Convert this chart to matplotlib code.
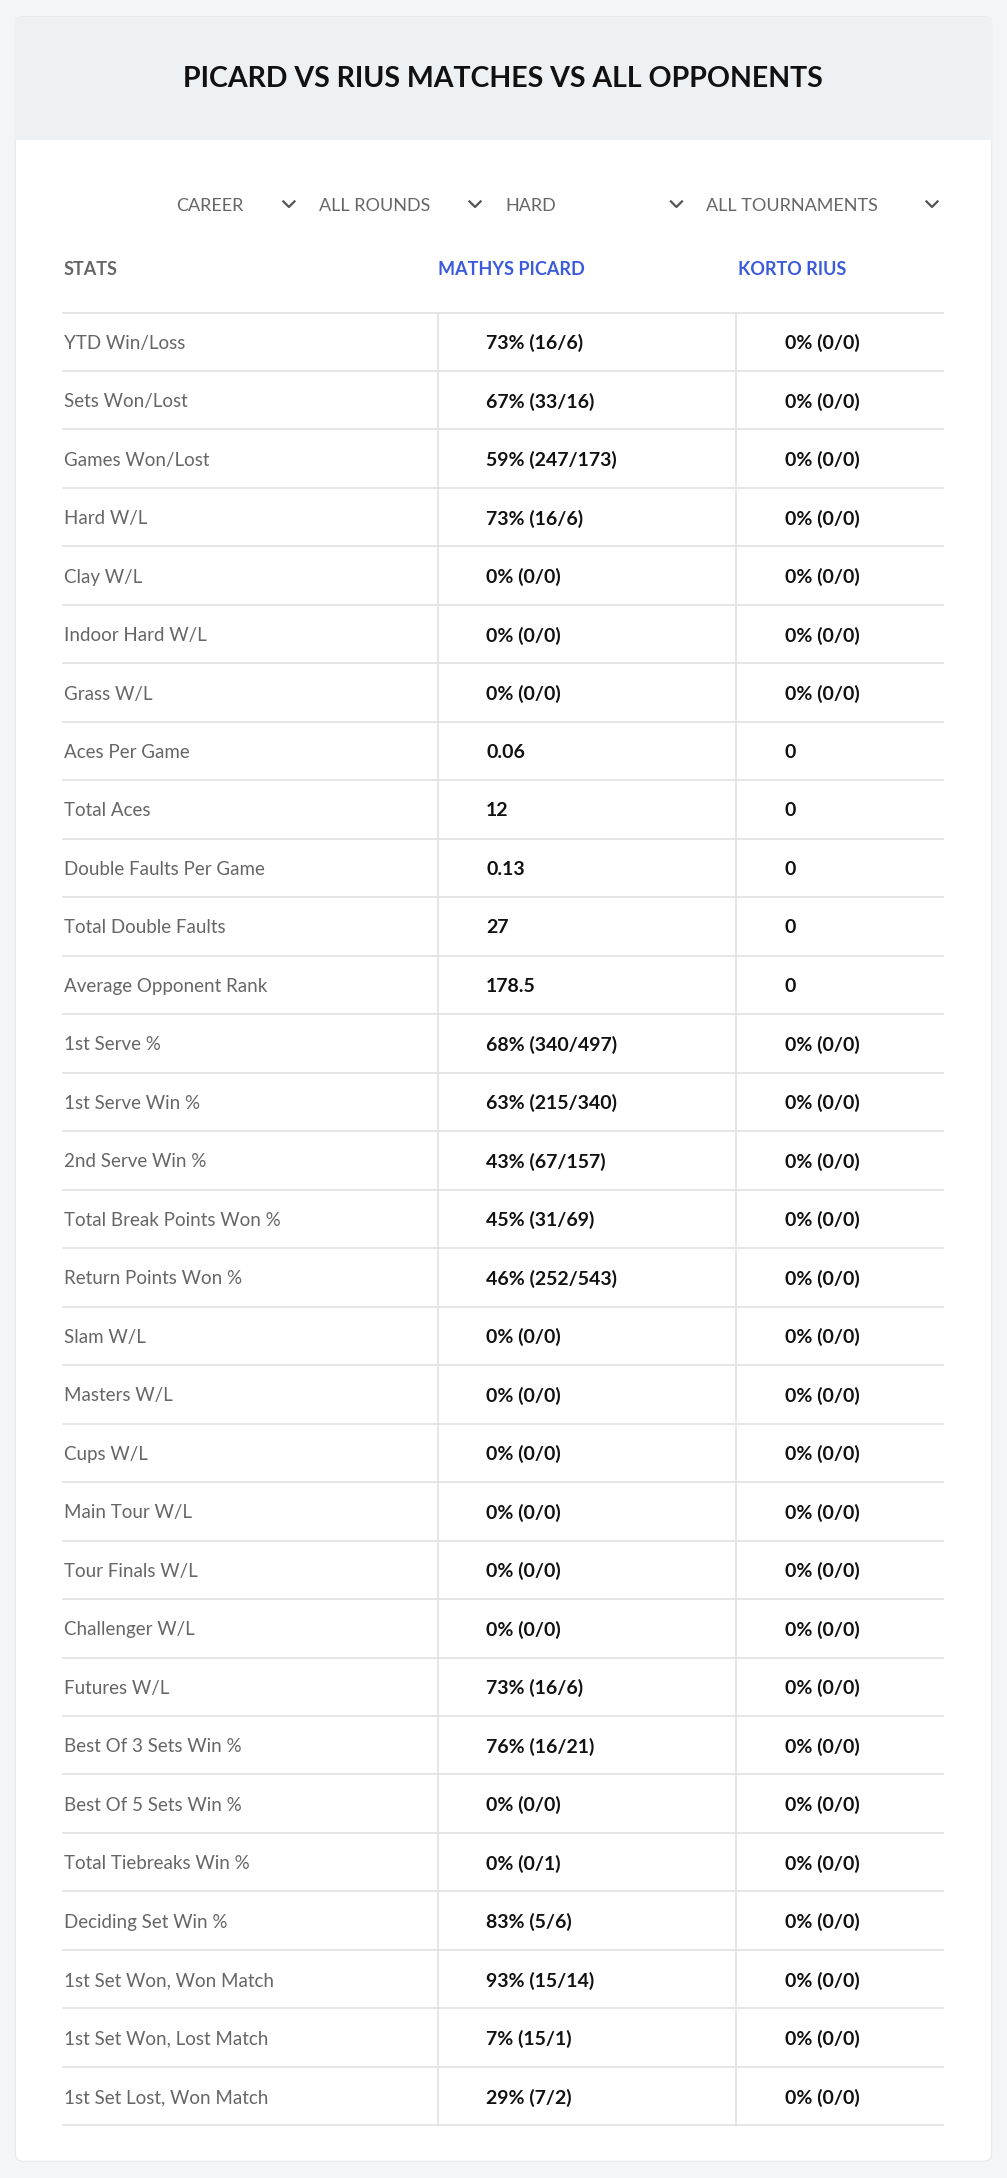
import matplotlib
matplotlib.use('Agg')

import matplotlib.pyplot as plt
from matplotlib.patches import FancyBboxPatch, Rectangle

plt.rcParams['font.family'] = ['Lato', 'DejaVu Sans']

title = "PICARD VS RIUS MATCHES VS ALL OPPONENTS"
filters = ["CAREER", "ALL ROUNDS", "HARD", "ALL TOURNAMENTS"]
players = ["MATHYS PICARD", "KORTO RIUS"]

stats = ["YTD Win/Loss", "Sets Won/Lost", "Games Won/Lost", "Hard W/L", "Clay W/L",
         "Indoor Hard W/L", "Grass W/L", "Aces Per Game", "Total Aces",
         "Double Faults Per Game", "Total Double Faults", "Average Opponent Rank",
         "1st Serve %", "1st Serve Win %", "2nd Serve Win %", "Total Break Points Won %",
         "Return Points Won %", "Slam W/L", "Masters W/L", "Cups W/L", "Main Tour W/L",
         "Tour Finals W/L", "Challenger W/L", "Futures W/L", "Best Of 3 Sets Win %",
         "Best Of 5 Sets Win %", "Total Tiebreaks Win %", "Deciding Set Win %",
         "1st Set Won, Won Match", "1st Set Won, Lost Match", "1st Set Lost, Won Match"]
picard = ["73% (16/6)", "67% (33/16)", "59% (247/173)", "73% (16/6)", "0% (0/0)",
          "0% (0/0)", "0% (0/0)", "0.06", "12", "0.13", "27", "178.5",
          "68% (340/497)", "63% (215/340)", "43% (67/157)", "45% (31/69)",
          "46% (252/543)", "0% (0/0)", "0% (0/0)", "0% (0/0)", "0% (0/0)",
          "0% (0/0)", "0% (0/0)", "73% (16/6)", "76% (16/21)", "0% (0/0)",
          "0% (0/1)", "83% (5/6)", "93% (15/14)", "7% (15/1)", "29% (7/2)"]
rius = ["0% (0/0)"] * 7 + ["0", "0", "0", "0", "0"] + ["0% (0/0)"] * 19

W, H = 725, 1568
fig = plt.figure(figsize=(10.07, 21.78), dpi=100)
fig.patch.set_facecolor('#f4f5f7')
ax = fig.add_axes([0, 0, 1, 1])
ax.set_xlim(0, W)
ax.set_ylim(H, 0)
ax.axis('off')

# card and header band
ax.add_patch(FancyBboxPatch((11, 12), 703, 1544, boxstyle="round,pad=0,rounding_size=6",
                            fc='white', ec='#e6e8eb', lw=0.8))
ax.add_patch(Rectangle((11, 12), 703, 89, fc='#eef1f4', ec='none'))
ax.text(362, 57, title, ha='center', va='center', fontsize=20.5, fontweight='bold', color='#111111')

# filter dropdowns
fx = [127, 230, 364, 508]
cx = [208, 342, 487, 671]
for f, x, c in zip(filters, fx, cx):
    ax.text(x, 148, f, ha='left', va='center', fontsize=13, color='#666666')
    ax.plot([c - 4, c, c + 4], [145, 149, 145], color='#555555', lw=1.6)

# header row
ax.text(46, 194, "STATS", ha='left', va='center', fontsize=13, fontweight='bold', color='#666666')
ax.text(368, 194, players[0], ha='center', va='center', fontsize=13, fontweight='bold', color='#3b5bdb')
ax.text(570, 194, players[1], ha='center', va='center', fontsize=13, fontweight='bold', color='#3b5bdb')

top, step = 225, 42.1
n = len(stats)
for i in range(n + 1):
    y = top + i * step
    ax.plot([45, 679], [y, y], color='#dfe1e4', lw=1.2)
for x in (315, 530):
    ax.plot([x, x], [top, top + n * step], color='#dfe1e4', lw=1.2)

for i, (s, p, r) in enumerate(zip(stats, picard, rius)):
    y = top + (i + 0.5) * step + 1
    ax.text(46, y, s, ha='left', va='center', fontsize=13.5, color='#666666')
    ax.text(350, y, p, ha='left', va='center', fontsize=14, fontweight='bold', color='#111111')
    ax.text(565, y, r, ha='left', va='center', fontsize=14, fontweight='bold', color='#111111')

fig.savefig('out.png', dpi=100, facecolor=fig.get_facecolor())
